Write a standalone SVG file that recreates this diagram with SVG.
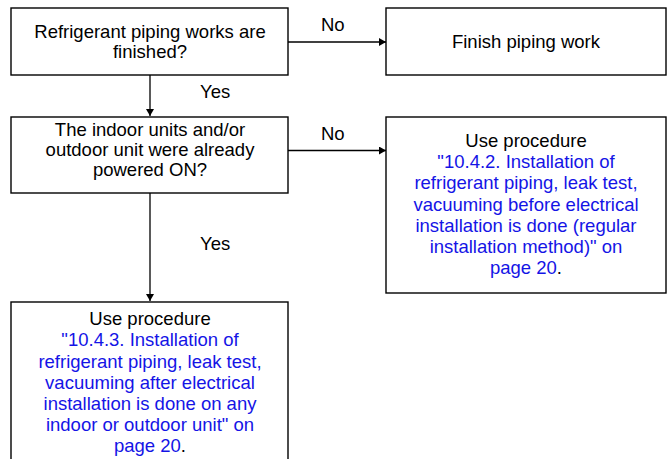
<svg xmlns="http://www.w3.org/2000/svg" width="670" height="459" viewBox="0 0 670 459">
<style>
.box{fill:#fff;stroke:#000;stroke-width:1.4}
.t{font-family:"Liberation Sans",Arial,sans-serif;font-size:18.5px;fill:#000;text-anchor:middle}
.b{fill:#1414e6}
.lbl{font-family:"Liberation Sans",Arial,sans-serif;font-size:18.5px;fill:#000}
.c{stroke:#000;stroke-width:1.3;fill:none}
</style>
<defs>
<marker id="ah" viewBox="0 0 10 10" refX="10" refY="5" markerWidth="7" markerHeight="8" markerUnits="userSpaceOnUse" orient="auto" preserveAspectRatio="none">
<path d="M0,0 L10,5 L0,10 Z" fill="#000"/>
</marker>
</defs>
<rect width="670" height="459" fill="#fff"/>
<g id="connectors">
<line class="c" x1="288" y1="42" x2="386" y2="42" marker-end="url(#ah)"/>
<line class="c" x1="150" y1="75" x2="150" y2="116" marker-end="url(#ah)"/>
<line class="c" x1="288" y1="150.5" x2="386" y2="150.5" marker-end="url(#ah)"/>
<line class="c" x1="150" y1="193" x2="150" y2="301" marker-end="url(#ah)"/>
<text class="lbl" x="321" y="31">No</text>
<text class="lbl" x="200" y="98">Yes</text>
<text class="lbl" x="321" y="140">No</text>
<text class="lbl" x="200" y="250">Yes</text>
</g>
<g id="n1">
<rect class="box" x="11" y="8" width="277" height="67"/>
<text class="t" x="150" y="38">Refrigerant piping works are</text>
<text class="t" x="150" y="58">finished?</text>
</g>
<g id="n2">
<rect class="box" x="386" y="8" width="280" height="67"/>
<text class="t" x="526" y="48">Finish piping work</text>
</g>
<g id="n3">
<rect class="box" x="11" y="117" width="277" height="76"/>
<text class="t" x="150" y="136">The indoor units and/or</text>
<text class="t" x="150" y="156">outdoor unit were already</text>
<text class="t" x="150" y="176">powered ON?</text>
</g>
<g id="n4">
<rect class="box" x="386" y="117" width="280" height="176"/>
<text class="t" x="526" y="147">Use procedure</text>
<text class="t b" x="526" y="168">"10.4.2. Installation of</text>
<text class="t b" x="526" y="189">refrigerant piping, leak test,</text>
<text class="t b" x="526" y="210.5">vacuuming before electrical</text>
<text class="t b" x="526" y="231.5">installation is done (regular</text>
<text class="t b" x="526" y="253">installation method)" on</text>
<text class="t" x="526" y="274"><tspan class="b">page 20</tspan>.</text>
</g>
<g id="n5">
<rect class="box" x="11" y="302" width="277" height="170"/>
<text class="t" x="150" y="325">Use procedure</text>
<text class="t b" x="150" y="346">"10.4.3. Installation of</text>
<text class="t b" x="150" y="367.5">refrigerant piping, leak test,</text>
<text class="t b" x="150" y="388.5">vacuuming after electrical</text>
<text class="t b" x="150" y="410">installation is done on any</text>
<text class="t b" x="150" y="431">indoor or outdoor unit" on</text>
<text class="t" x="150" y="452"><tspan class="b">page 20</tspan>.</text>
</g>
</svg>
